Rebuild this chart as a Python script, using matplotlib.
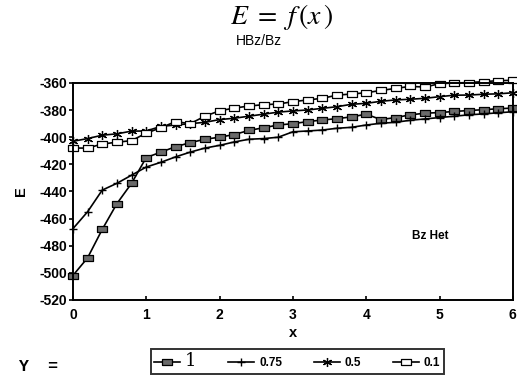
import matplotlib
matplotlib.use("Agg")
import matplotlib.pyplot as plt
import numpy as np

# x grid (0 .. 6, step 0.2)
x = [round(0.2 * i, 1) for i in range(31)]

# E values, one list per y value
e_y1 = [-502, -489, -468, -449, -434, -415, -411, -407, -404, -401.5,
        -400, -398, -395, -393, -391, -390, -388.5, -387.3, -386.3, -385,
        -383, -387, -385.5, -383.5, -382.3, -381.8, -381, -380.3, -379.7, -379, -378.5]
e_y075 = [-467.5, -455, -439, -434, -428, -422, -418.5, -414.5, -411, -408,
          -406, -403.5, -401.5, -401, -400, -396, -395.4, -394.7, -393.4, -392.7,
          -391, -389.7, -389, -387.5, -386.5, -385.5, -384.5, -383.5, -382.8, -382, -381.2]
e_y05 = [-403, -401, -398.5, -397.5, -395.5, -395.4, -392, -391, -390, -389,
         -387, -386, -384.5, -383, -381.5, -380.6, -379.9, -378.7, -377.5, -375.7,
         -375, -373.5, -372.5, -372, -371.3, -370.1, -369, -368.9, -368.3, -368, -367.2]
e_y01 = [-408, -408, -405, -403.7, -402.5, -397, -393, -388.5, -390, -384.5,
         -380.5, -378.5, -377, -376, -375.5, -373.8, -372.5, -371.3, -369, -368.1,
         -367.2, -365.5, -364, -362.5, -363, -360.5, -360, -359.7, -359, -358.3, -358]

series_labels = ["1", "0.75", "0.5", "0.1"]
y_ticks = [-360, -380, -400, -420, -440, -460, -480, -500, -520]
x_ticks = [0, 1, 2, 3, 4, 5, 6]

plt.rcParams["font.family"] = ["Liberation Sans", "DejaVu Sans"]
plt.rcParams["mathtext.fontset"] = "stix"

fig = plt.figure(figsize=(5.17, 3.86), dpi=100)
ax = fig.add_axes([0.141, 0.223, 0.851, 0.562])

# wide rectangle marker used for both square series
rect = [(-1, -0.7), (1, -0.7), (1, 0.7), (-1, 0.7), (-1, -0.7)]

common = dict(color="black", lw=1.2, clip_on=False)
ax.plot(x, e_y1, marker=rect, ms=6.5, mfc="#6a6a6a", mec="black", mew=0.9,
        label=series_labels[0], **common)
ax.plot(x, e_y075, marker="+", ms=5.5, mew=1.0, label=series_labels[1], **common)
ax.plot(x, e_y05, marker=(6, 2, 0), ms=6.5, mew=0.9, label=series_labels[2], **common)
ax.plot(x, e_y01, marker=rect, ms=6.5, mfc="white", mec="black", mew=0.9,
        label=series_labels[3], **common)

ax.set_xlim(0, 6)
ax.set_ylim(-520, -360)
ax.set_yticks(y_ticks)
ax.set_yticklabels([str(v) for v in y_ticks])
ax.set_xticks(x_ticks)
ax.set_xticklabels([str(v) for v in x_ticks])
ax.tick_params(axis="y", direction="out", length=3, width=1.2, pad=1, labelsize=10)
ax.tick_params(axis="x", direction="in", length=3, width=1.2, pad=6, labelsize=10)
for lab in ax.get_xticklabels() + ax.get_yticklabels():
    lab.set_fontweight("bold")
for sp in ax.spines.values():
    sp.set_linewidth(1.4)

ax.set_xlabel("x", fontsize=10.5, fontweight="bold", labelpad=3)
ax.set_ylabel("E", fontsize=10.5, fontweight="bold", labelpad=8)
ax.text(4.87, -473, "Bz Het", fontsize=8.5, fontweight="bold", ha="center", va="center")

fig.text(0.545, 0.955, r"$E\ =\ f\,(x\,)$", fontsize=20, ha="center", va="center")
fig.text(0.5, 0.895, "HBz/Bz", fontsize=10, ha="center", va="center")
fig.text(0.035, 0.05, "Y  =", fontsize=12, family="Liberation Mono",
         fontweight="bold", ha="left", va="center")

leg = fig.legend(loc="lower left", bbox_to_anchor=(0.28, 0.016, 0.59, 0.072),
                 mode="expand", ncol=4, frameon=True, fancybox=False,
                 edgecolor="black", handlelength=2.2, handletextpad=0.4,
                 columnspacing=0.6, borderpad=0.3, fontsize=8.5)
leg.get_frame().set_linewidth(1.4)
for t in leg.get_texts():
    t.set_fontweight("bold")
first = leg.get_texts()[0]
first.set_fontfamily("DejaVu Serif")
first.set_fontweight("normal")
first.set_fontsize(13)

fig.savefig("out.png", dpi=100)
